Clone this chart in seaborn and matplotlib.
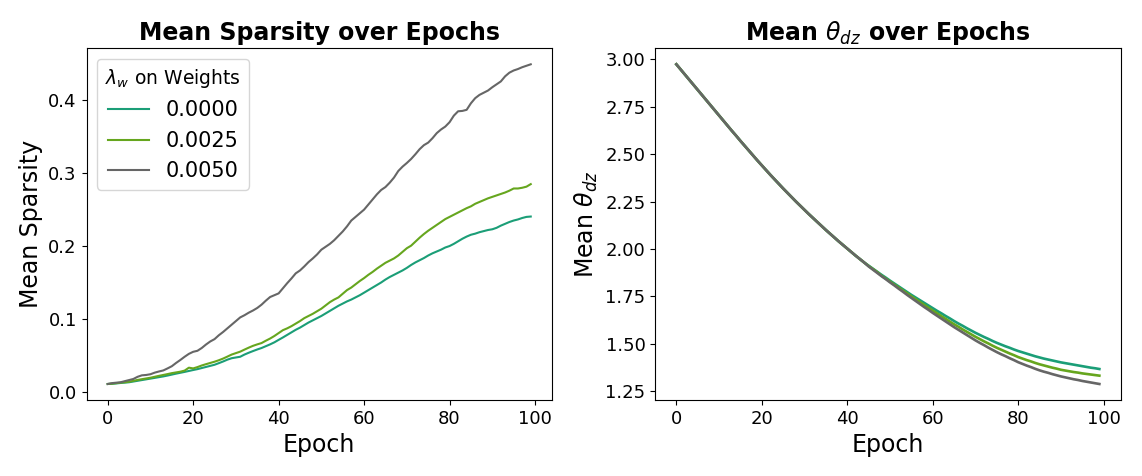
import pandas as pd
import numpy as np
import seaborn as sns
import matplotlib.pyplot as plt

epochs = list(range(100))
lambdas = ['0.0000', '0.0025', '0.0050']

# mean sparsity per epoch, one list per lambda_w
sparsity_0000 = [
    0.0106, 0.0109, 0.0114, 0.0120, 0.0125, 0.0130, 0.0140, 0.0150, 0.0160, 0.0170,
    0.0180, 0.0190, 0.0200, 0.0210, 0.0222, 0.0235, 0.0248, 0.0260, 0.0272, 0.0285,
    0.0298, 0.0310, 0.0325, 0.0340, 0.0355, 0.0370, 0.0392, 0.0415, 0.0440, 0.0460,
    0.0470, 0.0480, 0.0510, 0.0535, 0.0558, 0.0580, 0.0600, 0.0625, 0.0650, 0.0678,
    0.0712, 0.0745, 0.0780, 0.0815, 0.0850, 0.0880, 0.0915, 0.0950, 0.0980, 0.1010,
    0.1040, 0.1075, 0.1110, 0.1145, 0.1180, 0.1210, 0.1240, 0.1265, 0.1295, 0.1325,
    0.1360, 0.1395, 0.1430, 0.1465, 0.1500, 0.1540, 0.1575, 0.1605, 0.1635, 0.1665,
    0.1700, 0.1740, 0.1775, 0.1805, 0.1835, 0.1870, 0.1900, 0.1925, 0.1950, 0.1980,
    0.2000, 0.2030, 0.2065, 0.2100, 0.2130, 0.2155, 0.2170, 0.2190, 0.2205, 0.2220,
    0.2230, 0.2250, 0.2280, 0.2305, 0.2330, 0.2350, 0.2365, 0.2385, 0.2400, 0.2405]
sparsity_0025 = [
    0.0106, 0.0110, 0.0118, 0.0124, 0.0130, 0.0137, 0.0150, 0.0162, 0.0172, 0.0182,
    0.0192, 0.0205, 0.0218, 0.0230, 0.0242, 0.0255, 0.0265, 0.0275, 0.0290, 0.0330,
    0.0320, 0.0338, 0.0360, 0.0378, 0.0395, 0.0412, 0.0432, 0.0455, 0.0482, 0.0510,
    0.0530, 0.0550, 0.0578, 0.0605, 0.0630, 0.0650, 0.0668, 0.0700, 0.0730, 0.0765,
    0.0805, 0.0845, 0.0870, 0.0900, 0.0935, 0.0970, 0.1010, 0.1040, 0.1070, 0.1105,
    0.1140, 0.1185, 0.1230, 0.1265, 0.1295, 0.1345, 0.1395, 0.1430, 0.1475, 0.1520,
    0.1560, 0.1605, 0.1645, 0.1690, 0.1730, 0.1770, 0.1800, 0.1830, 0.1870, 0.1920,
    0.1970, 0.2005, 0.2060, 0.2115, 0.2165, 0.2210, 0.2250, 0.2290, 0.2330, 0.2370,
    0.2400, 0.2430, 0.2460, 0.2490, 0.2520, 0.2545, 0.2580, 0.2605, 0.2630, 0.2655,
    0.2675, 0.2695, 0.2715, 0.2735, 0.2760, 0.2790, 0.2790, 0.2800, 0.2815, 0.2850]
sparsity_0050 = [
    0.0106, 0.0118, 0.0124, 0.0130, 0.0145, 0.0160, 0.0175, 0.0205, 0.0225, 0.0230,
    0.0240, 0.0262, 0.0278, 0.0292, 0.0320, 0.0350, 0.0395, 0.0436, 0.0480, 0.0520,
    0.0548, 0.0562, 0.0600, 0.0648, 0.0690, 0.0722, 0.0775, 0.0820, 0.0870, 0.0920,
    0.0970, 0.1020, 0.1050, 0.1085, 0.1115, 0.1150, 0.1195, 0.1250, 0.1300, 0.1325,
    0.1350, 0.1420, 0.1490, 0.1555, 0.1625, 0.1665, 0.1720, 0.1780, 0.1830, 0.1885,
    0.1950, 0.1990, 0.2030, 0.2080, 0.2140, 0.2200, 0.2270, 0.2350, 0.2400, 0.2450,
    0.2500, 0.2570, 0.2640, 0.2710, 0.2770, 0.2810, 0.2870, 0.2940, 0.3030, 0.3090,
    0.3140, 0.3195, 0.3260, 0.3330, 0.3385, 0.3420, 0.3480, 0.3550, 0.3600, 0.3640,
    0.3700, 0.3790, 0.3850, 0.3855, 0.3870, 0.3960, 0.4030, 0.4075, 0.4105, 0.4135,
    0.4180, 0.4220, 0.4260, 0.4330, 0.4380, 0.4410, 0.4430, 0.4455, 0.4475, 0.4495]

# mean theta_dz: the three runs coincide up to epoch 44
theta_shared = [
    2.974, 2.947, 2.920, 2.893, 2.866, 2.839, 2.812, 2.785, 2.758, 2.731,
    2.704, 2.677, 2.650, 2.623, 2.597, 2.570, 2.544, 2.518, 2.492, 2.466,
    2.441, 2.416, 2.391, 2.367, 2.343, 2.319, 2.296, 2.273, 2.250, 2.228,
    2.206, 2.184, 2.163, 2.142, 2.121, 2.100, 2.080, 2.060, 2.040, 2.021,
    2.002, 1.983, 1.964, 1.946, 1.928]
theta_tail_0000 = [
    1.912, 1.896, 1.880, 1.864, 1.849, 1.833, 1.818, 1.803, 1.788, 1.773,
    1.758, 1.744, 1.730, 1.716, 1.702, 1.688, 1.674, 1.661, 1.647, 1.634,
    1.620, 1.607, 1.595, 1.582, 1.570, 1.558, 1.547, 1.536, 1.526, 1.515,
    1.505, 1.496, 1.487, 1.479, 1.470, 1.462, 1.455, 1.448, 1.441, 1.434,
    1.428, 1.422, 1.417, 1.412, 1.407, 1.402, 1.398, 1.394, 1.390, 1.386,
    1.382, 1.378, 1.374, 1.371, 1.367]
theta_tail_0025 = [
    1.910, 1.894, 1.878, 1.859, 1.844, 1.828, 1.812, 1.797, 1.781, 1.766,
    1.750, 1.735, 1.720, 1.705, 1.690, 1.675, 1.661, 1.646, 1.632, 1.617,
    1.603, 1.590, 1.576, 1.563, 1.550, 1.537, 1.525, 1.513, 1.502, 1.490,
    1.479, 1.469, 1.459, 1.449, 1.440, 1.430, 1.422, 1.414, 1.407, 1.399,
    1.392, 1.386, 1.380, 1.374, 1.369, 1.363, 1.359, 1.355, 1.351, 1.348,
    1.344, 1.341, 1.338, 1.335, 1.332]
theta_tail_0050 = [
    1.908, 1.891, 1.874, 1.857, 1.841, 1.824, 1.808, 1.791, 1.775, 1.758,
    1.742, 1.726, 1.710, 1.694, 1.679, 1.663, 1.648, 1.633, 1.618, 1.603,
    1.588, 1.574, 1.560, 1.546, 1.532, 1.518, 1.505, 1.493, 1.480, 1.468,
    1.456, 1.445, 1.435, 1.424, 1.414, 1.403, 1.394, 1.385, 1.377, 1.368,
    1.360, 1.353, 1.347, 1.340, 1.334, 1.328, 1.323, 1.318, 1.313, 1.309,
    1.304, 1.300, 1.296, 1.292, 1.288]

sparsity = [sparsity_0000, sparsity_0025, sparsity_0050]
theta = [theta_shared + theta_tail_0000,
         theta_shared + theta_tail_0025,
         theta_shared + theta_tail_0050]

df = pd.DataFrame({
    'Epoch': epochs * 3,
    'lam': np.repeat(lambdas, len(epochs)),
    'sparsity': np.concatenate(sparsity),
    'theta': np.concatenate(theta),
})

dark2 = sns.color_palette('Dark2', 8)
palette = {'0.0000': dark2[0], '0.0025': dark2[4], '0.0050': dark2[7]}

plt.rcParams['xtick.labelsize'] = 13
plt.rcParams['ytick.labelsize'] = 13

fig, (ax1, ax2) = plt.subplots(1, 2, figsize=(11.42, 4.76), dpi=100)
fig.subplots_adjust(left=0.0758, right=0.9812, bottom=0.1597, top=0.8985, wspace=0.222)

sns.lineplot(data=df, x='Epoch', y='sparsity', hue='lam', palette=palette,
             linewidth=1.5, ax=ax1)
ax1.set_title('Mean Sparsity over Epochs', fontsize=17, fontweight='bold')
ax1.set_xlabel('Epoch', fontsize=17)
ax1.set_ylabel('Mean Sparsity', fontsize=17)
ax1.set_yticks([0.0, 0.1, 0.2, 0.3, 0.4])
ax1.legend(title=r'$\lambda_w$ on Weights', fontsize=15, title_fontsize=13.5,
           loc='upper left')

sns.lineplot(data=df, x='Epoch', y='theta', hue='lam', palette=palette,
             linewidth=1.9, ax=ax2, legend=False)
ax2.set_title(r'Mean $\theta_{dz}$ over Epochs', fontsize=17, fontweight='bold')
ax2.set_xlabel('Epoch', fontsize=17)
ax2.set_ylabel(r'Mean $\theta_{dz}$', fontsize=17)

for ax in (ax1, ax2):
    ax.set_xticks([0, 20, 40, 60, 80, 100])

plt.savefig('out.png', dpi=100)
